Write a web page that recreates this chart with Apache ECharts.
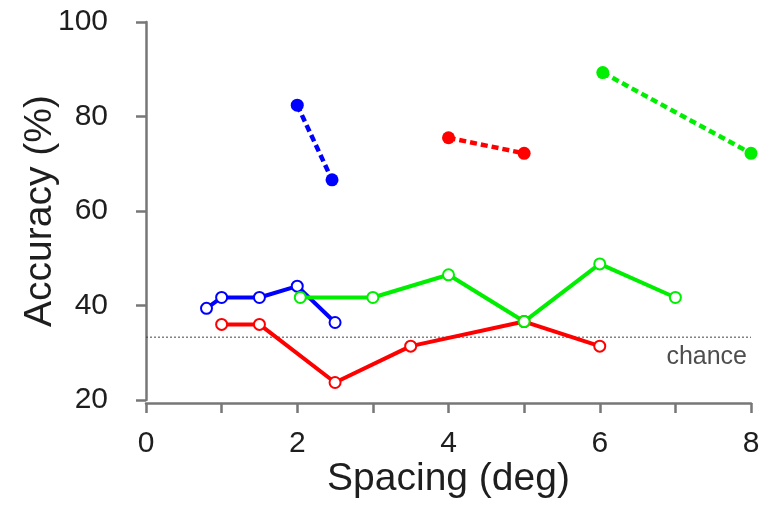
<!DOCTYPE html>
<html>
<head>
<meta charset="utf-8">
<script src="https://cdn.jsdelivr.net/npm/echarts@6/dist/echarts.min.js"></script>
<style>
html,body{margin:0;padding:0;background:#fff;}
#chart{width:770px;height:505px;}
</style>
</head>
<body>
<div id="chart"></div>
<script>
// Data
const blueSolidX = [0.8, 1.0, 1.5, 2.0, 2.5];
const blueSolidY = [39.4, 41.7, 41.7, 44.1, 36.4];
const redSolidX = [1.0, 1.5, 2.5, 3.5, 5.0, 6.0];
const redSolidY = [36.0, 36.0, 23.7, 31.4, 36.6, 31.4];
const greenSolidX = [2.04, 3.0, 4.0, 5.0, 6.0, 7.0];
const greenSolidY = [41.7, 41.7, 46.5, 36.6, 48.8, 41.7];
const blueDashX = [2.0, 2.46];
const blueDashY = [82.4, 66.6];
const redDashX = [4.0, 5.0];
const redDashY = [75.5, 72.2];
const greenDashX = [6.04, 8.0];
const greenDashY = [89.3, 72.2];
const chanceX = [0, 8];
const chanceLevel = 33.3;
const chanceText = 'chance';
const xTicks = [0, 2, 4, 6, 8];
const yTicks = [20, 40, 60, 80, 100];
const xTitle = 'Spacing (deg)';
const yTitle = 'Accuracy (%)';

const FONT = "'Liberation Sans', Arial, sans-serif";
const zip = (xs, ys) => xs.map((x, i) => [x, ys[i]]);

function solid(name, color, xs, ys) {
  return {
    name, type: 'line', data: zip(xs, ys), clip: false,
    symbol: 'emptyCircle', symbolSize: 11, showSymbol: true,
    lineStyle: { color: color, width: 4 },
    itemStyle: { color: color, borderColor: color, borderWidth: 2 },
    emphasis: { disabled: true },
    z: 3
  };
}
function dashed(name, color, xs, ys) {
  return {
    name, type: 'line', data: zip(xs, ys), clip: false,
    symbol: 'circle', symbolSize: 13,
    lineStyle: { color: color, width: 4.5, type: [7, 4] },
    itemStyle: { color: color },
    emphasis: { disabled: true },
    z: 3
  };
}

const chart = echarts.init(document.getElementById('chart'));
chart.setOption({
  animation: false,
  backgroundColor: '#fff',
  grid: { left: 146, right: 19, top: 22, bottom: 105, containLabel: false },
  xAxis: {
    type: 'value', min: xTicks[0], max: xTicks[xTicks.length - 1], interval: 1,
    offset: 3,
    name: xTitle, nameLocation: 'middle', nameGap: 57, nameMoveOverlap: false,
    nameTextStyle: { fontFamily: FONT, fontSize: 39, color: '#1e1e1e' },
    axisLine: { show: true, lineStyle: { color: '#777', width: 2.5 } },
    axisTick: { show: true, length: 10, lineStyle: { color: '#777', width: 2.5 } },
    axisLabel: {
      margin: 26, fontFamily: FONT, fontSize: 30, color: '#1e1e1e',
      formatter: v => (xTicks.indexOf(v) >= 0 ? String(v) : '')
    },
    splitLine: { show: false }
  },
  yAxis: {
    type: 'value', min: yTicks[0], max: yTicks[yTicks.length - 1], interval: 20,
    offset: 23,
    name: yTitle, nameLocation: 'middle', nameGap: 63, nameRotate: 90, nameMoveOverlap: false,
    nameTextStyle: { fontFamily: FONT, fontSize: 39, color: '#1e1e1e' },
    axisLine: { show: true, lineStyle: { color: '#777', width: 2.5 } },
    axisTick: { show: true, length: 10, lineStyle: { color: '#777', width: 2.5 } },
    axisLabel: { margin: 15, fontFamily: FONT, fontSize: 30, color: '#1e1e1e' },
    splitLine: { show: false }
  },
  series: [
    {
      name: 'chance', type: 'line', clip: false,
      data: zip(chanceX, chanceX.map(() => chanceLevel)),
      symbol: 'none', showSymbol: false,
      lineStyle: { color: '#444', width: 1, type: [2, 2] },
      z: 1, silent: true
    },
    {
      name: 'chanceLabel', type: 'scatter', clip: false, silent: true,
      data: [[chanceX[chanceX.length - 1], chanceLevel]],
      symbol: 'circle', symbolSize: 1,
      itemStyle: { color: 'rgba(0,0,0,0)' },
      label: {
        show: true, formatter: chanceText, position: 'bottom', align: 'right',
        offset: [-4, 2], fontFamily: FONT, fontSize: 25, color: '#222'
      },
      z: 1
    },
    solid('blue', '#0000ff', blueSolidX, blueSolidY),
    solid('red', '#ff0000', redSolidX, redSolidY),
    solid('green', '#00ee00', greenSolidX, greenSolidY),
    dashed('blueDash', '#0000ff', blueDashX, blueDashY),
    dashed('redDash', '#ff0000', redDashX, redDashY),
    dashed('greenDash', '#00ee00', greenDashX, greenDashY)
  ]
});
</script>
</body>
</html>
